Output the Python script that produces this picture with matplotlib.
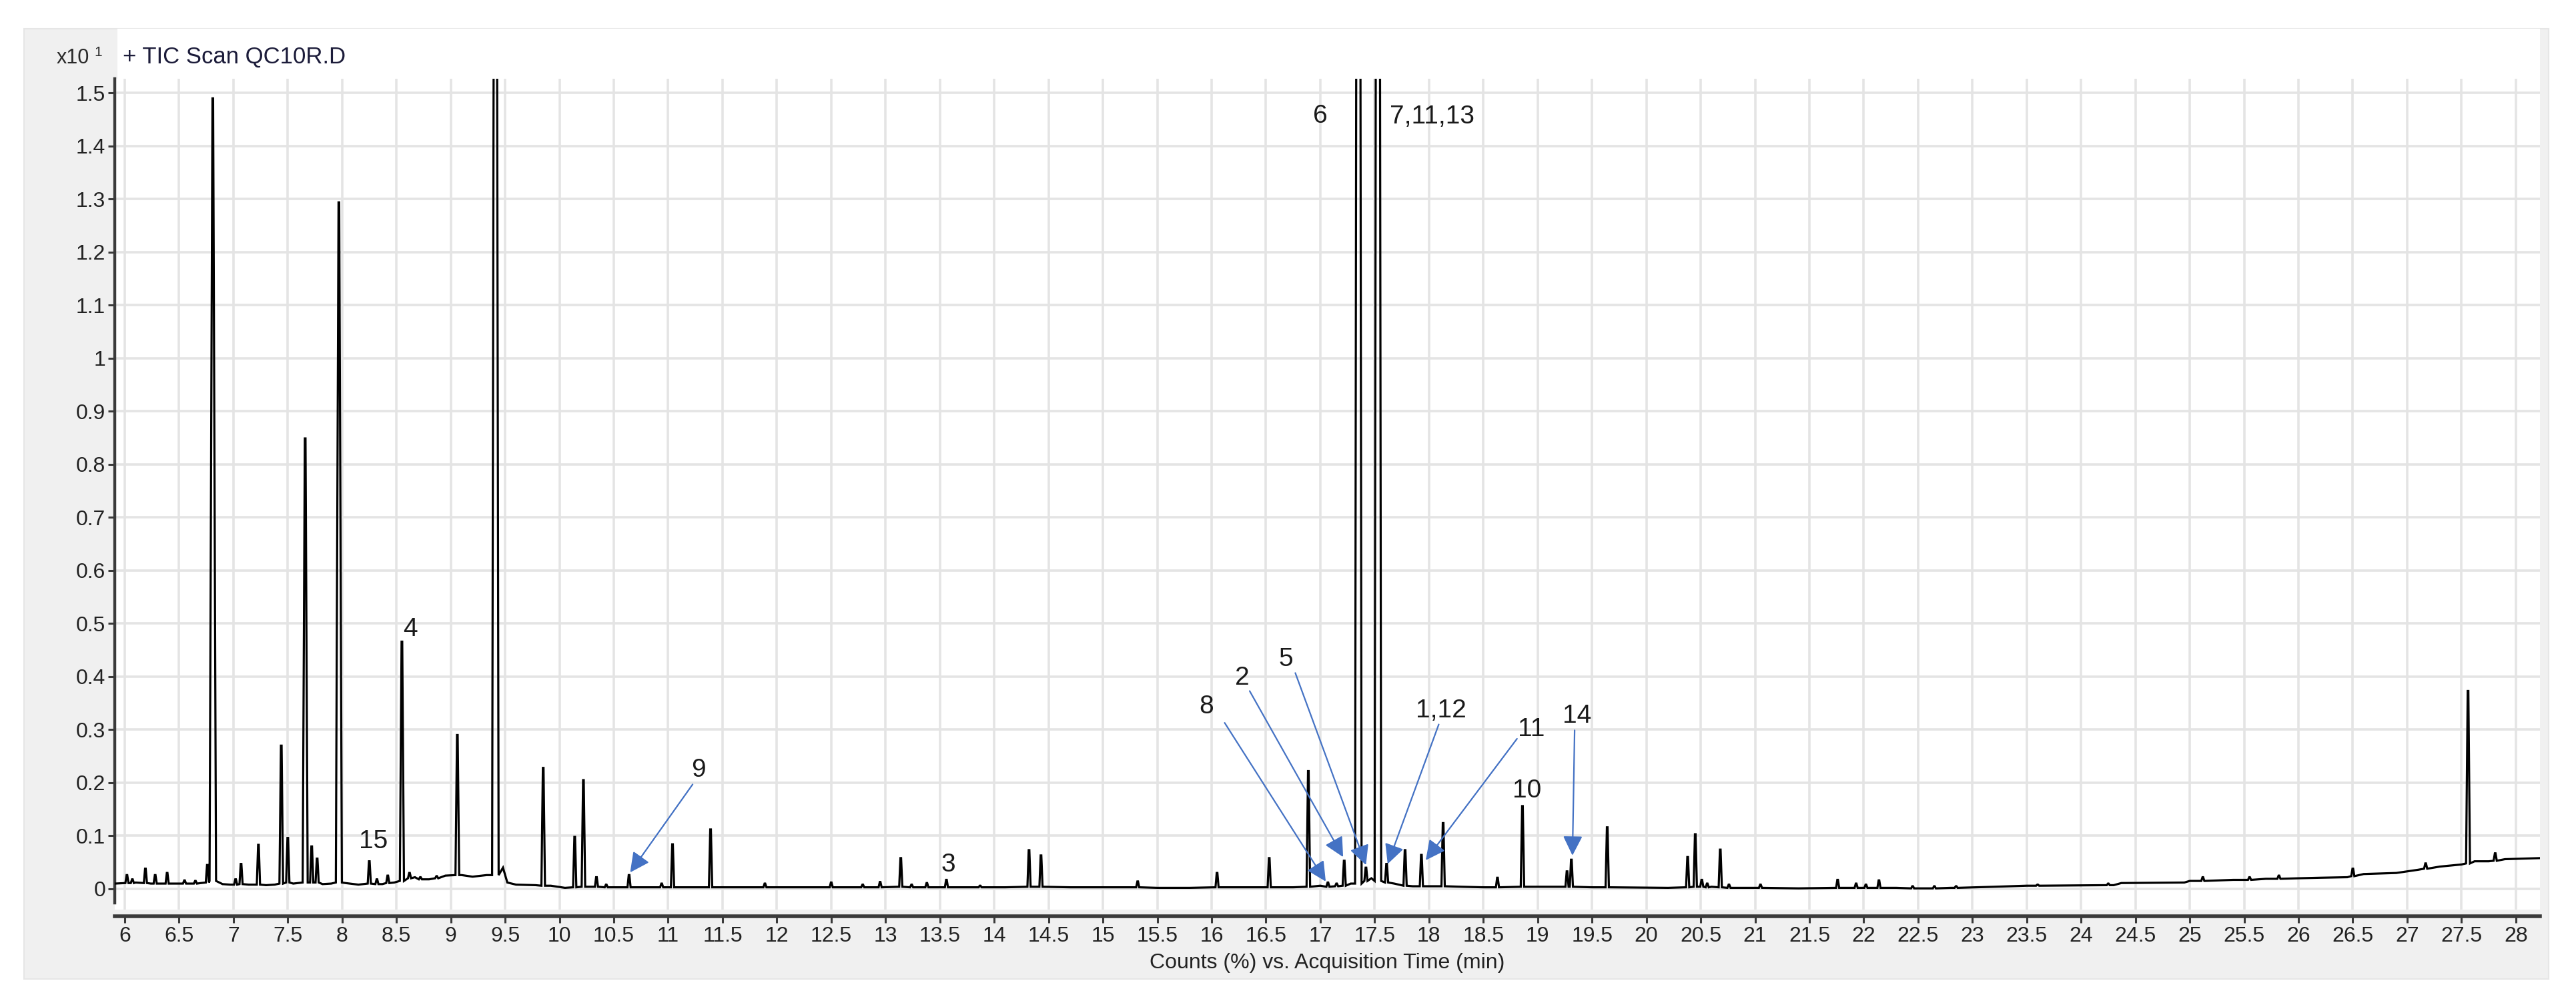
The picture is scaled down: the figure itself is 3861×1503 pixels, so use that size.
import matplotlib
matplotlib.use("Agg")
import matplotlib.pyplot as plt
from matplotlib.patches import Rectangle

# Font: narrow sans for the instrument-style text
FONT = ['Liberation Sans Narrow', 'Liberation Sans', 'DejaVu Sans']
plt.rcParams['font.family'] = FONT

# Retention time (min), apex height (x10 counts %), local baseline under the peak
peak_rt = [6.02, 6.07, 6.19, 6.28, 6.39, 6.55, 6.65, 6.76, 6.81, 7.02, 7.07, 7.23,
           7.44, 7.50, 7.66, 7.72, 7.77, 7.97, 8.25, 8.32, 8.42, 8.55, 8.62, 8.72,
           8.87, 9.06, 9.41, 9.85, 10.14, 10.22, 10.34, 10.43, 10.64, 10.94, 11.04,
           11.39, 11.89, 12.50, 12.79, 12.95, 13.14, 13.24, 13.38, 13.56, 13.87,
           14.32, 14.43, 15.32, 16.05, 16.53, 16.89, 17.07, 17.15, 17.22, 17.35,
           17.42, 17.53, 17.61, 17.78, 17.93, 18.13, 18.63, 18.86, 19.27, 19.31,
           19.64, 20.38, 20.45, 20.51, 20.56, 20.68, 20.76, 21.05, 21.76, 21.93,
           22.02, 22.14, 22.45, 22.65, 22.85, 23.60, 24.25, 25.12, 25.55, 25.82,
           26.50, 27.17, 27.56, 27.81]
peak_top = [0.026, 0.018, 0.038, 0.026, 0.030, 0.016, 0.015, 0.045, 1.49, 0.018, 0.047, 0.083,
            0.270, 0.096, 0.849, 0.080, 0.057, 1.294, 0.052, 0.018, 0.025, 0.466, 0.030, 0.022,
            0.024, 0.290, 3.0, 0.228, 0.098, 0.205, 0.022, 0.008, 0.026, 0.010, 0.084,
            0.112, 0.010, 0.012, 0.008, 0.013, 0.058, 0.008, 0.011, 0.017, 0.006,
            0.073, 0.063, 0.014, 0.030, 0.058, 0.222, 0.012, 0.010, 0.053, 4.0,
            0.040, 4.0, 0.047, 0.073, 0.064, 0.124, 0.021, 0.156, 0.033, 0.055,
            0.116, 0.060, 0.103, 0.017, 0.010, 0.074, 0.008, 0.008, 0.017, 0.010,
            0.008, 0.016, 0.005, 0.005, 0.005, 0.008, 0.010, 0.022, 0.022, 0.025,
            0.038, 0.048, 0.373, 0.067]
peak_base = [0.011, 0.011, 0.011, 0.010, 0.010, 0.010, 0.010, 0.012, 0.015, 0.008, 0.009, 0.008,
             0.010, 0.012, 0.012, 0.012, 0.012, 0.012, 0.010, 0.009, 0.011, 0.015, 0.020, 0.018,
             0.020, 0.026, 0.026, 0.006, 0.003, 0.004, 0.004, 0.003, 0.003, 0.003, 0.003,
             0.003, 0.003, 0.003, 0.003, 0.003, 0.004, 0.003, 0.003, 0.003, 0.003,
             0.004, 0.004, 0.003, 0.003, 0.003, 0.004, 0.004, 0.005, 0.006, 0.010,
             0.015, 0.015, 0.012, 0.006, 0.005, 0.005, 0.003, 0.004, 0.004, 0.004,
             0.003, 0.003, 0.004, 0.004, 0.003, 0.003, 0.002, 0.002, 0.002, 0.002,
             0.002, 0.002, 0.001, 0.001, 0.002, 0.006, 0.007, 0.015, 0.017, 0.019,
             0.024, 0.038, 0.048, 0.053]

# Baseline between peaks
baseline_t = [5.91, 6.10, 6.24, 6.45, 6.60, 6.70, 6.90, 6.97, 7.14, 7.30, 7.38, 7.55,
              7.82, 7.90, 8.03, 8.15, 8.37, 8.48, 8.67, 8.80, 8.95, 9.10, 9.20, 9.33,
              9.48, 9.52, 9.60, 9.78, 9.92, 10.05, 10.30, 10.50, 11.70, 12.20, 13.70,
              14.10, 14.70, 15.50, 15.80, 16.30, 16.75, 17.00, 17.28, 17.47, 17.68,
              17.85, 18.30, 18.50, 19.00, 19.50, 20.20, 20.60, 21.40, 22.30, 22.80,
              23.20, 23.50, 24.30, 24.37, 24.95, 25.00, 25.40, 25.70, 26.00, 26.20,
              26.45, 26.60, 26.90, 27.10, 27.30, 27.50, 27.62, 27.75, 27.90, 28.22]
baseline_v = [0.010, 0.012, 0.010, 0.010, 0.010, 0.011, 0.009, 0.008, 0.008, 0.007, 0.008, 0.010,
              0.009, 0.010, 0.011, 0.008, 0.009, 0.012, 0.022, 0.018, 0.025, 0.026, 0.023, 0.026,
              0.040, 0.012, 0.008, 0.007, 0.006, 0.002, 0.004, 0.003, 0.003, 0.003, 0.003,
              0.003, 0.003, 0.002, 0.002, 0.003, 0.003, 0.006, 0.010, 0.020, 0.010,
              0.005, 0.004, 0.003, 0.004, 0.003, 0.002, 0.004, 0.001, 0.002, 0.002,
              0.004, 0.006, 0.007, 0.011, 0.012, 0.015, 0.017, 0.019, 0.020, 0.021,
              0.022, 0.028, 0.030, 0.036, 0.042, 0.046, 0.052, 0.052, 0.056, 0.058]

x_ticks = [6, 6.5, 7, 7.5, 8, 8.5, 9, 9.5, 10, 10.5, 11, 11.5, 12, 12.5, 13, 13.5, 14,
           14.5, 15, 15.5, 16, 16.5, 17, 17.5, 18, 18.5, 19, 19.5, 20, 20.5, 21, 21.5,
           22, 22.5, 23, 23.5, 24, 24.5, 25, 25.5, 26, 26.5, 27, 27.5, 28]
y_ticks = [0, 0.1, 0.2, 0.3, 0.4, 0.5, 0.6, 0.7, 0.8, 0.9, 1.0, 1.1, 1.2, 1.3, 1.4, 1.5]

# Peak labels
label_text = ['6', '7,11,13', '4', '15', '9', '3', '8', '2', '5', '1,12', '11', '14', '10']
label_x = [17.00, 18.03, 8.63, 8.29, 11.28, 13.58, 15.95, 16.28, 16.68, 18.11, 18.94, 19.36, 18.90]
label_y = [1.456, 1.455, 0.489, 0.089, 0.224, 0.045, 0.344, 0.397, 0.433, 0.336, 0.300, 0.326, 0.185]

# Arrows: tail -> head
arrow_tail_x = [11.225, 16.12, 16.35, 16.77, 18.09, 18.81, 19.34]
arrow_tail_y = [0.197, 0.313, 0.373, 0.407, 0.310, 0.283, 0.299]
arrow_head_x = [10.65, 17.05, 17.21, 17.42, 17.62, 17.97, 19.32]
arrow_head_y = [0.031, 0.014, 0.060, 0.045, 0.047, 0.054, 0.063]

# build the trace polyline
pts = list(zip(baseline_t, baseline_v))
for rt, top, base in zip(peak_rt, peak_top, peak_base):
    hw = 0.014 + 0.016 * min(top, 1.5) / 1.5
    pts += [(rt - hw, base), (rt - 0.003, top), (rt + 0.003, top), (rt + hw, base)]
pts.sort()
trace_t = [p[0] for p in pts]
trace_v = [p[1] for p in pts]

W, H = 3861, 1503
fig = plt.figure(figsize=(W / 100, H / 100), dpi=100, facecolor='white')

# grey instrument panel + white plot panel (behind the axes)
fig.patches.append(Rectangle((36 / W, 1 - 1467 / H), (3820 - 36) / W, (1467 - 43) / H,
                             transform=fig.transFigure, facecolor='#f0f0f0',
                             edgecolor='#e6e6e6', lw=1.5, zorder=-3))
fig.patches.append(Rectangle((176 / W, 1 - 1363 / H), (3807 - 176) / W, (1363 - 43) / H,
                             transform=fig.transFigure, facecolor='white',
                             edgecolor='none', zorder=-2))

ax = fig.add_axes([172 / W, 1 - 1363 / H, (3807 - 172) / W, (1363 - 118) / H])
ax.set_facecolor('white')
ax.set_xlim(5.908, 28.222)
ax.set_ylim(-0.039, 1.527)

ax.plot(trace_t, trace_v, color='black', lw=2.3, solid_joinstyle='miter', zorder=3)

ax.set_axisbelow(True)
ax.grid(True, color='#e4e4e4', lw=2.6)

for s in ['top', 'right']:
    ax.spines[s].set_visible(False)
ax.spines['left'].set_color('#3a3a3a')
ax.spines['left'].set_linewidth(3.2)
ax.spines['left'].set_bounds(-0.026, 1.527)
ax.spines['bottom'].set_color('#3a3a3a')
ax.spines['bottom'].set_linewidth(4.0)
ax.spines['bottom'].set_position(('outward', 7))

ax.set_xticks(x_ticks)
ax.set_xticklabels([('%g' % t) for t in x_ticks])
ax.set_yticks(y_ticks)
ax.set_yticklabels([('%g' % v) for v in y_ticks])
ax.tick_params(axis='both', colors='#3a3a3a', labelcolor='#222222', labelsize=23,
               length=7, width=2.2, direction='out')
ax.tick_params(axis='y', pad=3)
ax.tick_params(axis='x', pad=4)

ax.set_xlabel('Counts (%) vs. Acquisition Time (min)', fontsize=23, color='#222222')
ax.xaxis.set_label_coords(0.5, -0.064)
ax.xaxis.label.set_va('center')

# header texts
fig.text(134 / W, 1 - 87 / H, 'x10', ha='right', va='center', fontsize=22, color='#2a2a2a')
fig.text(141 / W, 1 - 79 / H, '1', ha='left', va='center', fontsize=15, color='#2a2a2a')
fig.text(184 / W, 1 - 85 / H, '+ TIC Scan QC10R.D', ha='left', va='center',
         fontsize=25, color='#1c1c3a')

for txt, x, y in zip(label_text, label_x, label_y):
    ax.text(x, y, txt, ha='center', va='center', fontsize=28, color='#1a1a1a', zorder=5)

for tx, ty, hx, hy in zip(arrow_tail_x, arrow_tail_y, arrow_head_x, arrow_head_y):
    ax.annotate('', xy=(hx, hy), xytext=(tx, ty), zorder=6,
                arrowprops=dict(arrowstyle='-|>', color='#4472c4', lw=1.6,
                                mutation_scale=45, shrinkA=0, shrinkB=0))

fig.savefig('out.png', dpi=100, facecolor='white')
